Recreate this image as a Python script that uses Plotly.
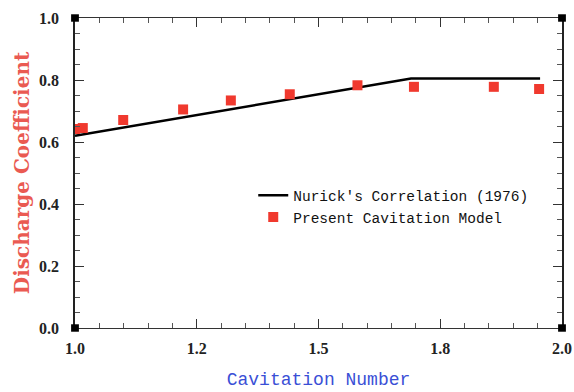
import plotly.graph_objects as go

# Nurick's correlation (line)
line_x = [1.0, 1.69, 1.955]
line_y = [0.62, 0.805, 0.805]

# Present cavitation model (squares)
model_x = [1.0, 1.016, 1.099, 1.222, 1.320, 1.441, 1.580, 1.696, 1.860, 1.953]
model_y = [0.642, 0.645, 0.671, 0.705, 0.734, 0.754, 0.783, 0.778, 0.778, 0.771]

x_tickvals = [1.0, 1.25, 1.5, 1.75, 2.0]
x_ticktext = ["1.0", "1.2", "1.5", "1.8", "2.0"]
y_tickvals = [0.0, 0.2, 0.4, 0.6, 0.8, 1.0]
y_ticktext = ["0.0", "0.2", "0.4", "0.6", "0.8", "1.0"]

fig = go.Figure()
fig.add_trace(go.Scatter(x=line_x, y=line_y, mode="lines",
                         line=dict(color="black", width=2.5),
                         name="Nurick's Correlation (1976)"))
fig.add_trace(go.Scatter(x=model_x, y=model_y, mode="markers",
                         marker=dict(symbol="square", size=10, color="#f0392e"),
                         name="Present Cavitation Model"))

# small black squares at the frame corners
for cx in (0, 1):
    for cy in (0, 1):
        fig.add_shape(type="rect", xref="x domain", yref="y domain",
                      x0=cx - 0.008, x1=cx + 0.008, y0=cy - 0.012, y1=cy + 0.012,
                      fillcolor="black", line=dict(width=0))

tickfont = dict(family="Liberation Serif", size=16, color="#222", weight="bold")
fig.update_xaxes(range=[1.0, 2.0], tickvals=x_tickvals, ticktext=x_ticktext,
                 ticks="inside", ticklen=9, tickwidth=1.2, tickcolor="#333",
                 showline=True, linecolor="#333", linewidth=1.3, mirror="ticks",
                 showgrid=False, zeroline=False, tickfont=tickfont, automargin=False,
                 ticklabelstandoff=6,
                 minor=dict(dtick=0.05, tick0=1.0, ticks="inside", ticklen=5,
                            tickcolor="#555", tickwidth=1),
                 title=dict(text="Cavitation Number", standoff=16,
                            font=dict(family="Liberation Mono", size=18, color="#3a4fd6")))
fig.update_yaxes(range=[0.0, 1.0], tickvals=y_tickvals, ticktext=y_ticktext,
                 ticks="inside", ticklen=9, tickwidth=1.2, tickcolor="#333",
                 showline=True, linecolor="#222", linewidth=1.8, mirror="ticks",
                 showgrid=False, zeroline=False, tickfont=tickfont, automargin=False,
                 ticklabelstandoff=11,
                 minor=dict(dtick=0.05, tick0=0.0, ticks="inside", ticklen=5,
                            tickcolor="#555", tickwidth=1),
                 title=dict(text="Discharge Coefficient", standoff=4,
                            font=dict(family="DejaVu Serif", size=20, color="#ea5a52",
                                      weight="bold")))

fig.update_layout(
    width=574, height=392,
    margin=dict(l=75, r=12, t=18, b=64),
    paper_bgcolor="white", plot_bgcolor="white",
    showlegend=True,
    legend=dict(x=0.366, y=0.48, xanchor="left", yanchor="top",
                bgcolor="rgba(0,0,0,0)", borderwidth=0,
                font=dict(family="Liberation Mono", size=14.5, color="#111"),
                tracegroupgap=0, itemwidth=30),
)

fig.write_html("out.html", config={"displayModeBar": False},
               post_script="document.body.style.margin='0px';document.body.style.overflow='hidden';")
